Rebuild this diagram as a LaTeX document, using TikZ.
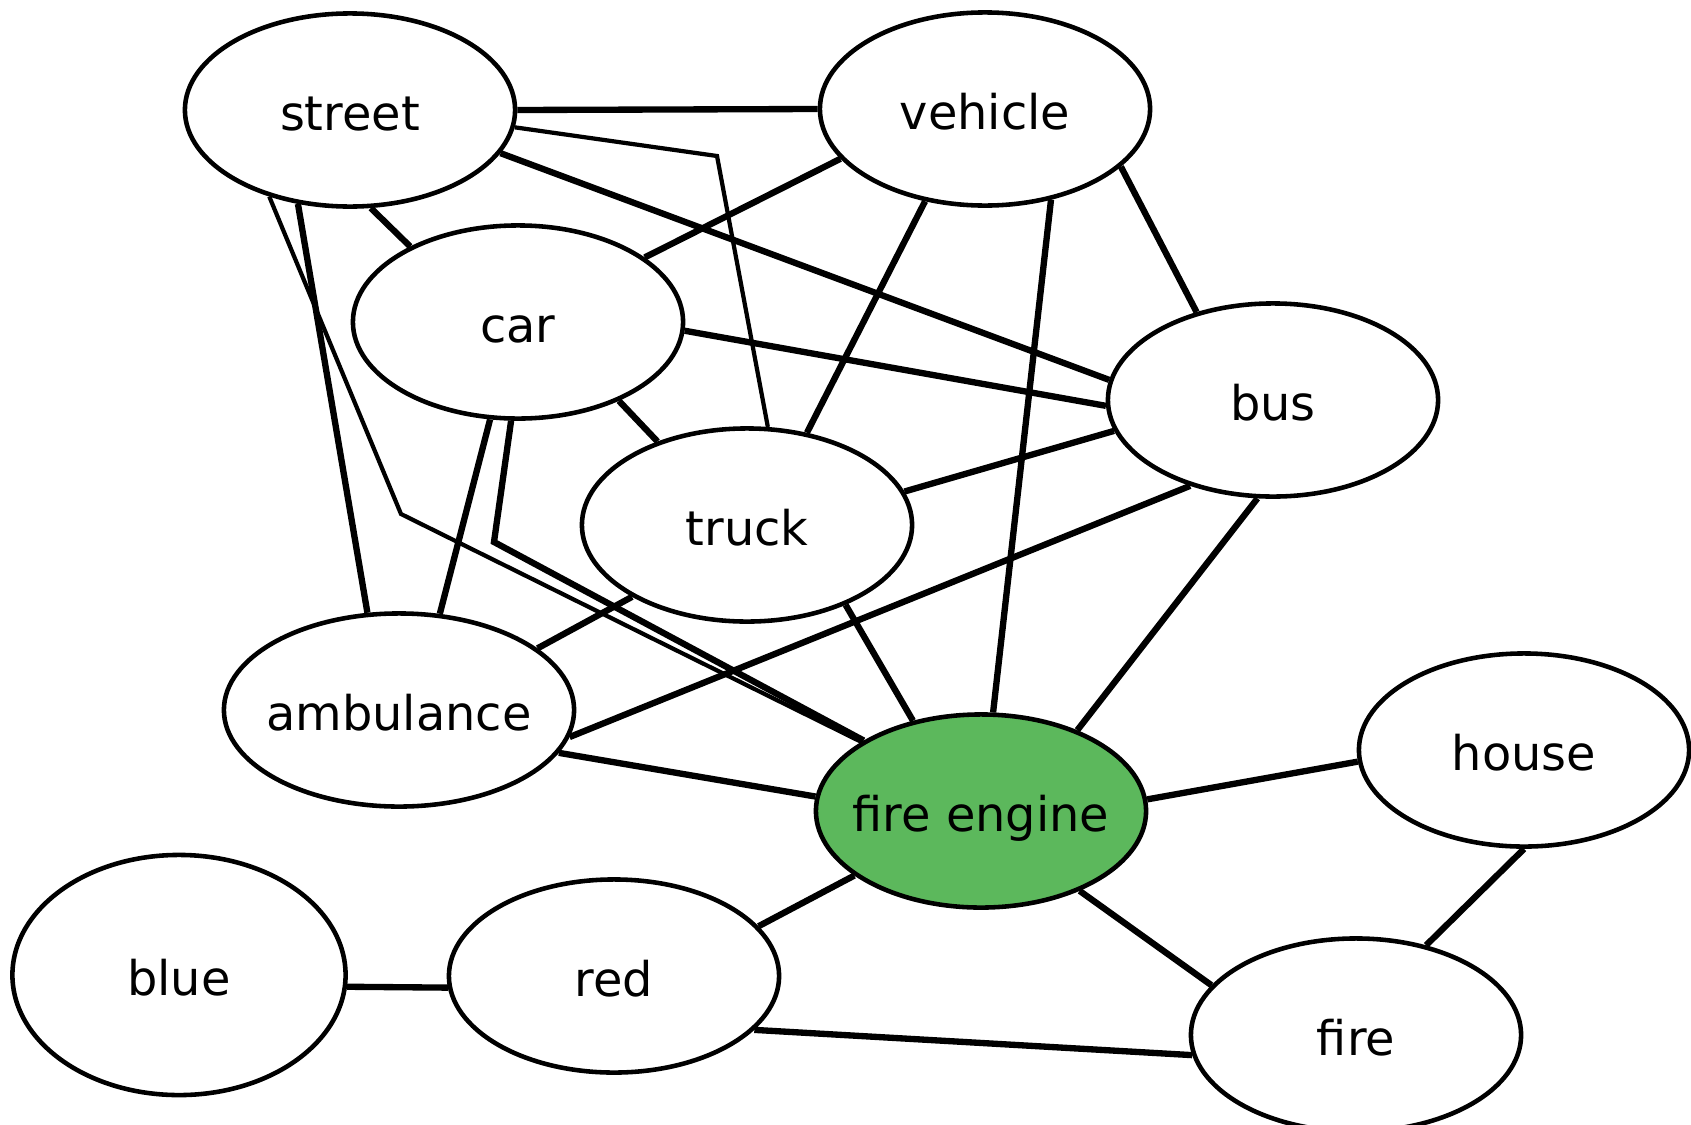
\documentclass[tikz,border=0pt]{standalone}
\usepackage{fontspec}
\setmainfont{DejaVu Sans}
\usetikzlibrary{shapes.geometric}
\definecolor{firegreen}{RGB}{92,184,92}
% label that does not widen the ellipse
\newcommand{\lbl}[1]{\raisebox{-5.8pt}[0pt][0pt]{\makebox[0pt]{#1}}}
\tikzset{
    concept/.style = { ellipse, draw, line width=1.3pt, fill=white, inner sep=0pt,
                       minimum width=3.3cm, minimum height=1.93cm,
                       font=\fontsize{13.6}{16}\selectfont },
      focus/.style = { concept, fill=firegreen },
       link/.style = { line width=1.8pt },
   thinlink/.style = { line width=1.2pt },
}

\begin{document}
\begin{tikzpicture}[x=0.01cm, y=-0.01cm]
  \clip (0,0) rectangle (1691,1124);
  \node [concept] (street)     at (350,110)  {\lbl{street}};
  \node [concept] (vehicle)    at (985,109)  {\lbl{vehicle}};
  \node [concept] (car)        at (518,322)  {\lbl{car}};
  \node [concept] (bus)        at (1273,400) {\lbl{bus}};
  \node [concept] (truck)      at (747,525)  {\lbl{truck}};
  \node [concept, minimum width=3.5cm] (ambulance) at (399,710) {\lbl{ambulance}};
  \node [focus]   (fireengine) at (981,811)  {\lbl{fire engine}};
  \node [concept] (house)      at (1524,750) {\lbl{house}};
  \node [concept, minimum width=3.33cm, minimum height=2.4cm] (blue) at (179,975) {\lbl{blue}};
  \node [concept] (red)        at (614,976)  {\lbl{red}};
  \node [concept] (fire)       at (1356,1035) {\lbl{fire}};

  \coordinate (bendtruck) at (717,156);
  \coordinate (bendfire)  at (401,514);
  \coordinate (bendcar)   at (494,542);

  \foreach \a/\b in {street.0/vehicle.180, street.-16/bus.173, street.-78/car.145,
                     street.-119/ambulance.108, vehicle.-161/car.27, vehicle.-123/truck.57,
                     vehicle.-54/fireengine.83, vehicle.-23/bus.131, car.-3/bus.182,
                     car.-38/truck.137, car.-106/ambulance.67, truck.12/bus.191,
                     truck.-148/ambulance.24, truck.-39/fireengine.127, bus.-134/ambulance.-9,
                     bus.-99/fireengine.40, ambulance.-15/fireengine.175, fireengine.4/house.184,
                     fireengine.-153/red.19, fireengine.-39/fire.161, house.-90/fire.52,
                     blue.-4/red.184, red.-21/fire.187} {
    \draw [link] (\a) -- (\b);
  }
  \draw [thinlink] (street.-6) -- (bendtruck) -- (truck.78);
  \draw [thinlink] (street.-133) -- (bendfire) -- (fireengine.150);
  \draw [link] (car.-94) -- (bendcar) -- (fireengine.149);
\end{tikzpicture}
\end{document}
